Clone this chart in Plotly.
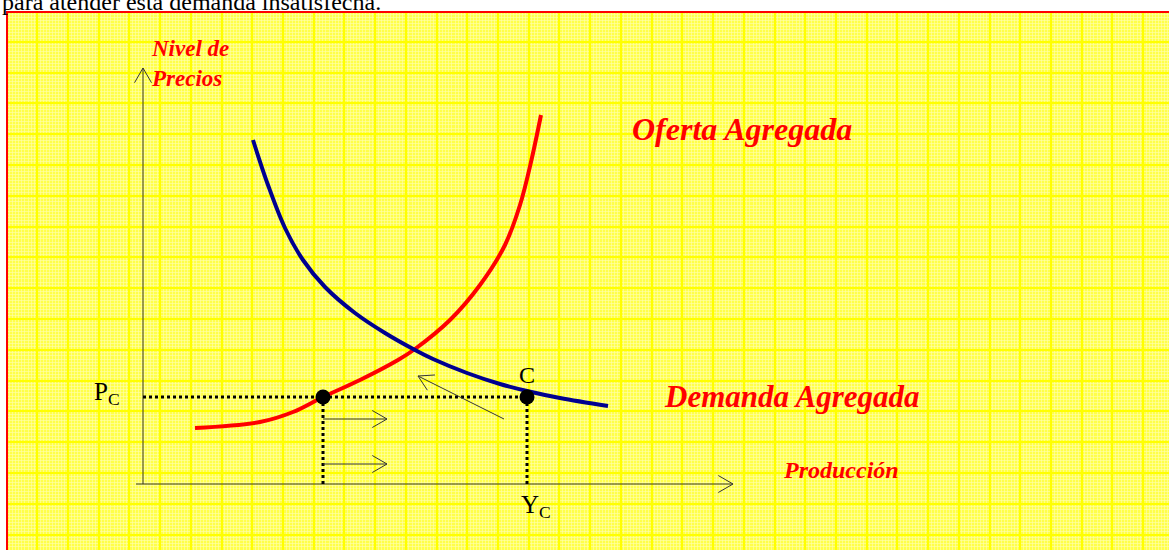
import numpy as np
import plotly.graph_objects as go

W, H = 1169, 550

# ---------------- data (pixel-like coordinates) ----
supply_x = [195, 260, 293, 323, 360, 398, 415, 450, 480, 505, 520, 531, 541]
supply_y = [428, 422, 412, 397, 380, 360, 349, 320, 285, 245, 205, 162, 115]

demand_x = [253, 268, 285, 303, 325, 355, 385, 415, 433, 467, 500, 527, 560, 608]
demand_y = [140, 185, 228, 260, 287, 313, 333, 350, 359, 373, 384, 391, 398, 406]

point_x = [323, 527]          # equilibrium dots
point_y = [397, 397]

origin_x, origin_y = 143, 484  # axes origin
x_axis_left, x_axis_tip = 136, 733
y_axis_tip = 68

arrow_tail_x = [323, 323, 504]
arrow_tail_y = [419, 464, 419]
arrow_tip_x = [387, 387, 418]
arrow_tip_y = [419, 464, 376]

SERIF = "Liberation Serif, Times New Roman, serif"
RED = "#FF0000"
BLUE = "#000090"
AXIS = "#333333"


def arrow_head(tx, ty, fx, fy, length=17, ang=30):
    """Two barbs of an open arrow head at (tx,ty) pointing away from (fx,fy)."""
    d = np.array([fx - tx, fy - ty], float)
    d /= np.hypot(*d)
    xs, ys = [], []
    for a in (ang, -ang):
        r = np.radians(a)
        v = np.array([d[0] * np.cos(r) - d[1] * np.sin(r),
                      d[0] * np.sin(r) + d[1] * np.cos(r)]) * length
        xs += [tx + v[0], tx, None]
        ys += [ty + v[1], ty, None]
    return xs, ys


fig = go.Figure()

# axes with arrows
ax_x = [x_axis_left, x_axis_tip, None, origin_x, origin_x, None]
ax_y = [origin_y, origin_y, None, origin_y, y_axis_tip, None]
hx, hy = arrow_head(x_axis_tip, origin_y, x_axis_left, origin_y)
ax_x += hx; ax_y += hy
hx, hy = arrow_head(origin_x, y_axis_tip, origin_x, origin_y)
ax_x += hx; ax_y += hy
fig.add_trace(go.Scatter(x=ax_x, y=ax_y, mode="lines",
                         line=dict(color=AXIS, width=1), hoverinfo="skip"))

# dotted guide lines
dx = [origin_x, point_x[1], None]
dy = [point_y[0], point_y[1], None]
for px, py in zip(point_x, point_y):
    dx += [px, px, None]
    dy += [py, origin_y, None]
fig.add_trace(go.Scatter(x=dx, y=dy, mode="lines",
                         line=dict(color="black", width=3, dash="dot"),
                         hoverinfo="skip"))

# thin arrows
arx, ary = [], []
for fx, fy, tx, ty in zip(arrow_tail_x, arrow_tail_y, arrow_tip_x, arrow_tip_y):
    arx += [fx, tx, None]
    ary += [fy, ty, None]
    hx, hy = arrow_head(tx, ty, fx, fy)
    arx += hx; ary += hy
fig.add_trace(go.Scatter(x=arx, y=ary, mode="lines",
                         line=dict(color=AXIS, width=1), hoverinfo="skip"))

# curves
fig.add_trace(go.Scatter(x=supply_x, y=supply_y, mode="lines",
                         line=dict(color=RED, width=4, shape="spline"),
                         name="Oferta Agregada"))
fig.add_trace(go.Scatter(x=demand_x, y=demand_y, mode="lines",
                         line=dict(color=BLUE, width=4, shape="spline"),
                         name="Demanda Agregada"))

# dots
fig.add_trace(go.Scatter(x=point_x, y=point_y, mode="markers",
                         marker=dict(color="black", size=15)))

# ---------------- text ----------------
def lab(text, x, y, size, color=RED, bold=True, italic=True, xa="center", ya="middle", align="center"):
    fig.add_annotation(text=text, x=x, y=y, xref="x", yref="y", showarrow=False,
                       xanchor=xa, yanchor=ya, align=align,
                       font=dict(family=SERIF, size=size, color=color,
                                 weight="bold" if bold else "normal",
                                 style="italic" if italic else "normal"))

lab("Nivel de<br>Precios", 149, 63, 23, xa="left", align="left")
lab("Oferta Agregada", 742, 129, 32)
lab("Demanda Agregada", 792, 396, 31)
lab("Producción", 841, 470, 24)
lab("C", 527, 375, 24, color="black", bold=False, italic=False)
lab("P<sub>C</sub>", 92, 393, 25, color="black", bold=False, italic=False, xa="left")
lab("Y<sub>C</sub>", 519, 506, 25, color="black", bold=False, italic=False, xa="left")

fig.add_annotation(text="para atender esta demanda insatisfecha.", x=0, y=1 - 17 / H,
                   xref="paper", yref="paper", xanchor="left", yanchor="bottom",
                   showarrow=False,
                   font=dict(family=SERIF, size=24, color="black"))

# red frame
fig.add_shape(type="rect", xref="paper", yref="paper",
              x0=7 / W, x1=1.01, y0=-0.01, y1=1 - 12 / H,
              line=dict(color=RED, width=2), fillcolor="rgba(0,0,0,0)")

grid_major = "#FFFF00"
grid_minor = "rgba(255,255,175,0.6)"

fig.update_layout(
    width=W, height=H, margin=dict(l=0, r=0, t=0, b=0),
    paper_bgcolor="white", plot_bgcolor="#FFFF4A",
    showlegend=False,
    xaxis=dict(range=[7, W], domain=[7 / W, 1], showticklabels=False, ticks="",
               zeroline=False, showline=False, showgrid=True,
               tickmode="linear", tick0=6.5, dtick=30.72,
               gridcolor=grid_major, gridwidth=2,
               minor=dict(tickmode="linear", tick0=6.5, dtick=3.072, showgrid=True,
                          gridcolor=grid_minor, gridwidth=1),
               fixedrange=True),
    yaxis=dict(range=[H, 12], domain=[0, (H - 12) / H], showticklabels=False, ticks="",
               zeroline=False, showline=False, showgrid=True,
               tickmode="linear", tick0=11, dtick=30.8,
               gridcolor=grid_major, gridwidth=2,
               minor=dict(tickmode="linear", tick0=11, dtick=3.08, showgrid=True,
                          gridcolor=grid_minor, gridwidth=1),
               fixedrange=True),
)

fig.write_html("out.html", config={"displayModeBar": False},
               post_script="document.body.style.margin='0px';")
